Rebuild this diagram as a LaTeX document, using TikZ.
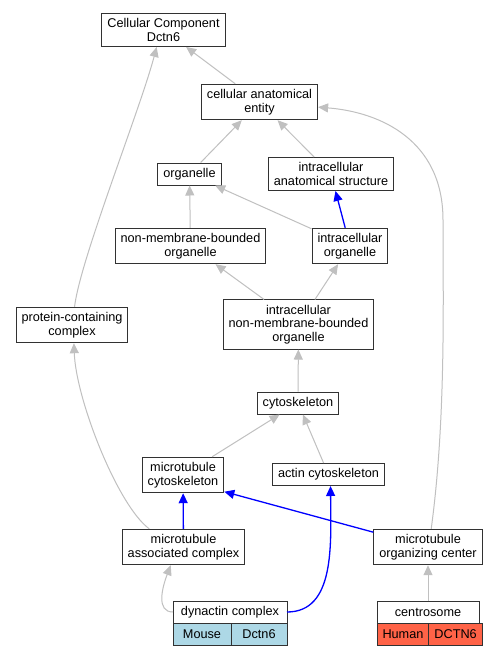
\documentclass[tikz,border=0pt]{standalone}
\usepackage{fontspec}
\setmainfont{Liberation Sans}
\usetikzlibrary{arrows.meta}
\definecolor{edgegray}{RGB}{192,192,192}
\definecolor{boxline}{RGB}{50,50,50}
\definecolor{mouseblue}{RGB}{173,216,230}
\definecolor{humanred}{RGB}{255,99,71}

\begin{document}
\begin{tikzpicture}[x=1pt,y=-1pt,
  term/.style={draw=boxline, line width=1pt, fill=white, align=center, inner xsep=5.5pt, inner ysep=5pt, minimum height=22pt, font=\fontsize{12.7}{13.6}\selectfont},
  cell/.style={term, outer sep=0pt, inner ysep=0pt, minimum height=22pt},
  isa/.style={edgegray, line width=1pt, -{Triangle[length=10pt,width=9pt]}},
  partof/.style={blue, line width=1.3pt, -{Triangle[length=10pt,width=9pt]}}]
\fill[white] (0,0) rectangle (499,656);

\node [term] (ccd6) at (163.5,30) {Cellular Component\\Dctn6};
\node [term] (cae) at (259.5,102) {cellular anatomical\\entity};
\node [term] (organelle) at (189.5,174) {organelle};
\node [term] (ias) at (331,174) {intracellular\\anatomical structure};
\node [term] (nmbo) at (190.5,246) {non-membrane-bounded\\organelle};
\node [term] (io) at (350,246) {intracellular\\organelle};
\node [term] (pcc) at (72,325) {protein-containing\\complex};
\node [term] (inmbo) at (298.5,324.5) {intracellular\\non-membrane-bounded\\organelle};
\node [term] (cyto) at (298,403) {cytoskeleton};
\node [term] (mtcyto) at (183,475) {microtubule\\cytoskeleton};
\node [term] (actin) at (328.5,474.5) {actin cytoskeleton};
\node [term] (mac) at (183.5,547) {microtubule\\associated complex};
\node [term] (mtoc) at (428,547) {microtubule\\organizing center};

\node [cell, minimum width=114pt] (dyn) at (230,612) {dynactin complex};
\node [cell, fill=mouseblue, minimum width=58pt, anchor=north west] (mouse) at (dyn.south west) {Mouse};
\node [cell, fill=mouseblue, minimum width=56pt, anchor=north west] (mgene) at (mouse.north east) {Dctn6};
\node [cell, minimum width=102pt] (centro) at (428,612) {centrosome};
\node [cell, fill=humanred, minimum width=51pt, anchor=north west] (human) at (centro.south west) {Human};
\node [cell, fill=humanred, minimum width=51pt, anchor=north west] (hgene) at (human.north east) {DCTN6};

\draw [isa] (cae) -- (ccd6);
\draw [isa] (pcc.82) .. controls (80,260) and (140,110) .. (ccd6.-112);
\draw [isa] (organelle) -- (cae);
\draw [isa] (ias) -- (cae);
\draw [isa] (mtoc.80) .. controls (446,420) and (443,300) .. (443,220) .. controls (443,140) and (380,112) .. (cae.-5);
\draw [partof] (io) -- (ias);
\draw [isa] (io) -- (organelle);
\draw [isa] (nmbo) -- (organelle);
\draw [isa] (inmbo) -- (nmbo);
\draw [isa] (inmbo) -- (io);
\draw [isa] (cyto) -- (inmbo);
\draw [isa] (mtcyto) -- (cyto);
\draw [isa] (actin) -- (cyto);
\draw [isa] (mac.152) .. controls (118,506) and (76,400) .. (pcc.-84);
\draw [partof] (mac) -- (mtcyto);
\draw [partof] (mtoc) -- (mtcyto.-22);
\draw [isa] (dyn.west) .. controls (156,612) and (162,588) .. (mac.-125);
\draw [partof] (dyn.east) .. controls (335,612) and (331,545) .. (actin.-80);
\draw [isa] (centro) -- (mtoc);
\end{tikzpicture}
\end{document}
